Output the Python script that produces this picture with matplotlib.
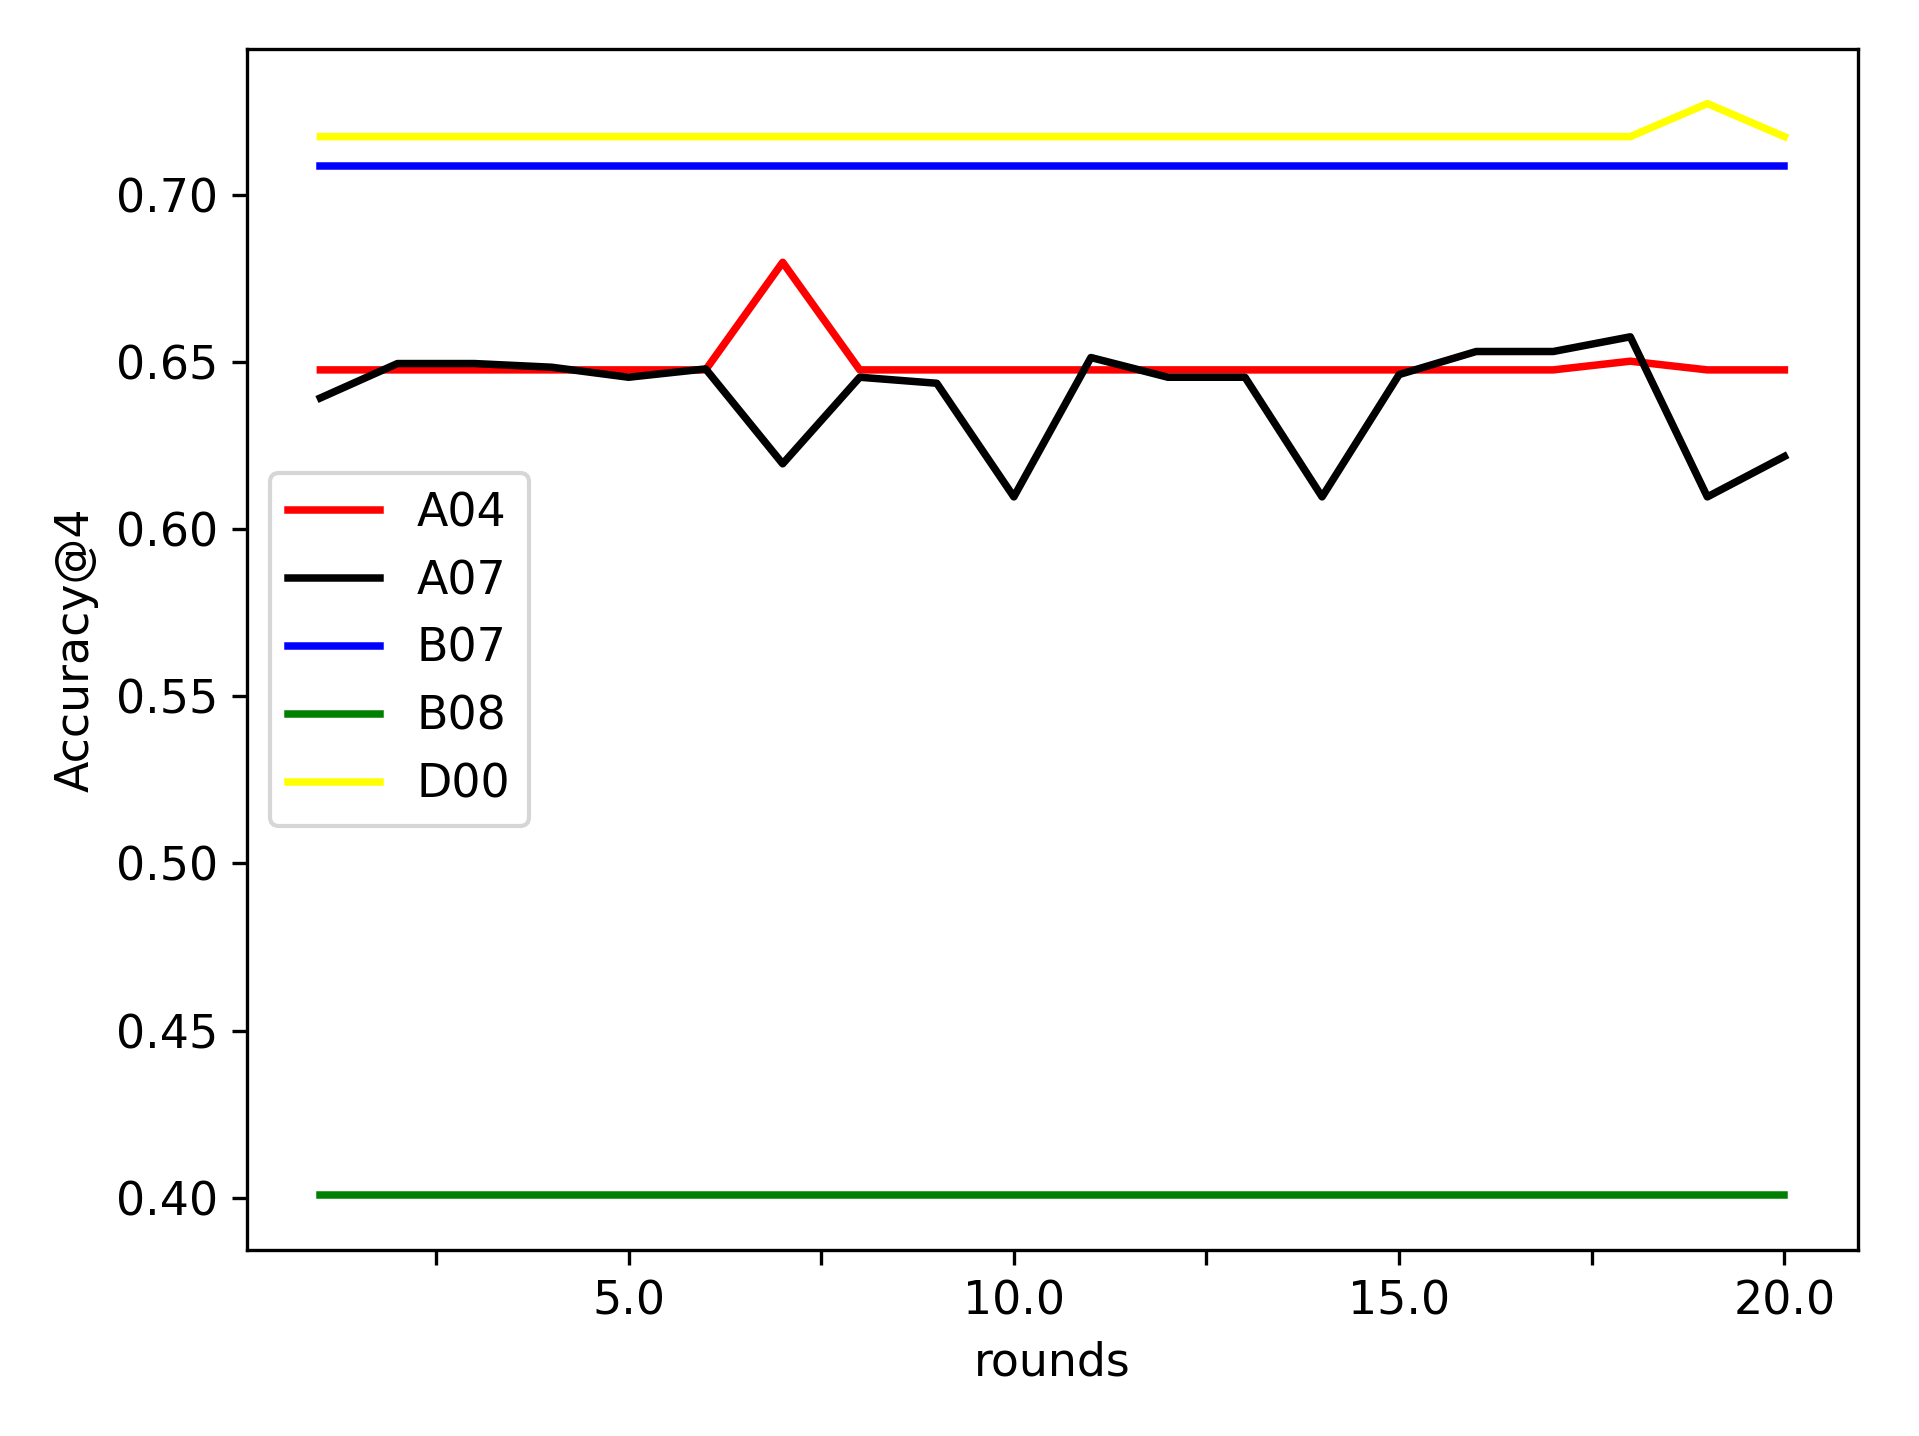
import matplotlib
matplotlib.use('Agg')
import matplotlib.pyplot as plt

rounds = list(range(1, 21))

a04 = [0.6477, 0.6477, 0.6477, 0.6477, 0.6477, 0.6477, 0.6799, 0.6477, 0.6477, 0.6477,
       0.6477, 0.6477, 0.6477, 0.6477, 0.6477, 0.6477, 0.6477, 0.6503, 0.6477, 0.6477]
a07 = [0.6393, 0.6496, 0.6496, 0.6485, 0.6455, 0.6480, 0.6196, 0.6455, 0.6437, 0.6097,
       0.6514, 0.6455, 0.6455, 0.6097, 0.6463, 0.6532, 0.6532, 0.6576, 0.6097, 0.6218]
b07 = [0.7088] * 20
b08 = [0.4007] * 20
d00 = [0.7175] * 18 + [0.7274, 0.7175]

series = ['A04', 'A07', 'B07', 'B08', 'D00']
colors = ['red', 'black', 'blue', 'green', 'yellow']

#graphic config
fig = plt.figure(figsize=(1919 / 300, 1436 / 300), dpi=300)
ax = fig.add_axes([0.1288, 0.1296, 0.968 - 0.1288, 0.9659 - 0.1296])

for name, vals, c in zip(series, [a04, a07, b07, b08, d00], colors):
    ax.plot(rounds, vals, color=c, label=name, linewidth=1.8)

ticks = [2.5, 5.0, 7.5, 10.0, 12.5, 15.0, 17.5, 20.0]
ax.set_xticks(ticks)
ax.set_xticklabels(['', '5.0', '', '10.0', '', '15.0', '', '20.0'])
ax.tick_params(labelsize=11)

ax.set_xlabel('rounds', fontsize=11)
ax.set_ylabel('Accuracy@4', fontsize=11)
ax.legend(loc='center left', fontsize=11)

plt.savefig('out.png', dpi=300)
